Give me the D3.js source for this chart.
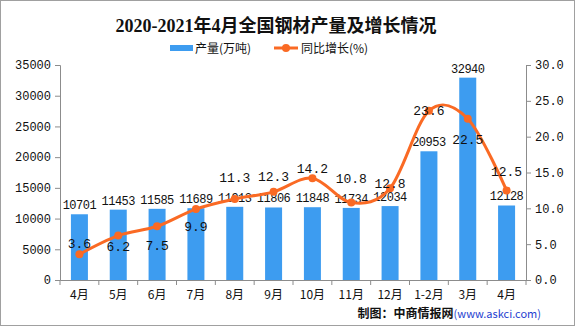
<!DOCTYPE html>
<html>
<head>
<meta charset="utf-8">
<script src="https://cdn.jsdelivr.net/npm/d3@7"></script>
<style>
  body { margin: 0; background: #fff; }
</style>
</head>
<body>
<div id="plot_area"></div>
<script>
// Chart data
const categories = ['4月', '5月', '6月', '7月', '8月', '9月', '10月', '11月', '12月', '1-2月', '3月', '4月'];
const output = [10701, 11453, 11585, 11689, 11913, 11806, 11848, 11734, 12034, 20953, 32940, 12128];
const growth = [3.6, 6.2, 7.5, 9.9, 11.3, 12.3, 14.2, 10.8, 12.8, 23.6, 22.5, 12.5];
const leftTicks = [0, 5000, 10000, 15000, 20000, 25000, 30000, 35000];
const rightTicks = [0, 5, 10, 15, 20, 25, 30];

// Size and plot edges
const w = 575;
const h = 326;
const plotLeft = 60, plotRight = 526, plotTop = 65, plotBottom = 280;

// Vertical shift of each growth label from its point (layout, not data)
const growthLabelDy = [-11, 11, 19, 17, -22, -15, -10, -24, -5, 0, 21, -19];

const barColor = '#3d9cf0';
const lineColor = '#fa6a24';
const axisColor = '#8c8c8c';
const numFont = '"Liberation Mono", "DejaVu Sans Mono", monospace';
const cjkFont = '"Noto Sans CJK SC", sans-serif';

const svg = d3.select('#plot_area')
  .append('svg')
  .attr('width', w)
  .attr('height', h);

// Outer border
svg.append('rect')
  .attr('x', 0.5).attr('y', 0.5)
  .attr('width', w - 1).attr('height', h - 1)
  .attr('fill', 'none')
  .attr('stroke', '#a0a0a0');

// Scales
const xScale = d3.scaleBand()
  .domain(d3.range(categories.length))
  .range([plotLeft, plotRight]);

const yLeft = d3.scaleLinear().domain([0, 35000]).range([plotBottom, plotTop]);
const yRight = d3.scaleLinear().domain([0, 30]).range([plotBottom, plotTop]);

// Left axis
const gl = svg.append('g')
  .attr('transform', 'translate(' + plotLeft + ',0)')
  .call(d3.axisLeft(yLeft).tickValues(leftTicks).tickSize(5).tickPadding(4)
    .tickFormat(d3.format('d')));

// Right axis
const gr = svg.append('g')
  .attr('transform', 'translate(' + plotRight + ',0)')
  .call(d3.axisRight(yRight).tickValues(rightTicks).tickSize(5).tickPadding(4)
    .tickFormat(d3.format('.1f')));

// Bottom axis: ticks on band boundaries
const gx = svg.append('g')
  .attr('transform', 'translate(0,' + plotBottom + ')')
  .call(d3.axisBottom(xScale).tickSize(0).tickPadding(10)
    .tickFormat((i) => categories[i]));

gx.selectAll('.tick text')
  .style('font-family', cjkFont)
  .style('font-size', '12px')
  .attr('fill', '#111');

svg.append('g')
  .selectAll('line')
  .data(d3.range(categories.length + 1))
  .enter()
  .append('line')
  .attr('x1', (i) => plotLeft + i * xScale.step())
  .attr('x2', (i) => plotLeft + i * xScale.step())
  .attr('y1', plotBottom)
  .attr('y2', plotBottom + 5)
  .attr('stroke', axisColor);

[gl, gr, gx].forEach(function (g) {
  g.select('.domain').attr('stroke', axisColor);
  g.selectAll('.tick line').attr('stroke', axisColor);
});
[gl, gr].forEach(function (g) {
  g.selectAll('.tick text')
    .style('font-family', numFont)
    .style('font-size', '12px')
    .attr('fill', '#111');
});

// Bars
const barW = 17;
svg.selectAll('rect.bar')
  .data(output)
  .enter()
  .append('rect')
  .attr('class', 'bar')
  .attr('x', (d, i) => xScale(i) + xScale.bandwidth() / 2 - barW / 2)
  .attr('y', (d) => yLeft(d))
  .attr('width', barW)
  .attr('height', (d) => plotBottom - yLeft(d))
  .attr('fill', barColor);

// Bar labels
svg.selectAll('text.barlab')
  .data(output)
  .enter()
  .append('text')
  .attr('class', 'barlab')
  .attr('x', (d, i) => xScale(i) + xScale.bandwidth() / 2)
  .attr('y', (d) => yLeft(d) - 5)
  .attr('text-anchor', 'middle')
  .style('font-family', numFont)
  .style('font-size', '12px')
  .attr('fill', '#111')
  .attr('letter-spacing', '-0.5')
  .text((d) => d);

// Growth line (smoothed)
svg.append('path')
  .datum(growth)
  .attr('fill', 'none')
  .attr('stroke', lineColor)
  .attr('stroke-width', 3)
  .attr('d', d3.line()
    .curve(d3.curveCardinal.tension(0))
    .x((d, i) => xScale(i) + xScale.bandwidth() / 2)
    .y((d) => yRight(d)));

svg.selectAll('circle.pt')
  .data(growth)
  .enter()
  .append('circle')
  .attr('class', 'pt')
  .attr('cx', (d, i) => xScale(i) + xScale.bandwidth() / 2)
  .attr('cy', (d) => yRight(d))
  .attr('r', 4)
  .attr('fill', lineColor);

// Growth labels
svg.selectAll('text.linelab')
  .data(growth)
  .enter()
  .append('text')
  .attr('class', 'linelab')
  .attr('x', (d, i) => xScale(i) + xScale.bandwidth() / 2)
  .attr('y', (d, i) => yRight(d) + growthLabelDy[i])
  .attr('dy', '0.35em')
  .attr('text-anchor', 'middle')
  .style('font-family', numFont)
  .style('font-size', '13px')
  .attr('fill', '#111')
  .text((d) => d.toFixed(1));

// Title
svg.append('text')
  .attr('x', 276)
  .attr('y', 32)
  .attr('text-anchor', 'middle')
  .style('font-family', '"Liberation Serif", "Noto Sans CJK SC", serif')
  .style('font-weight', 'bold')
  .style('font-size', '18px')
  .attr('fill', '#111')
  .text('2020-2021年4月全国钢材产量及增长情况');

// Legend
svg.append('rect')
  .attr('x', 170).attr('y', 45)
  .attr('width', 23).attr('height', 6)
  .attr('fill', barColor);
svg.append('text')
  .attr('x', 195).attr('y', 53)
  .style('font-family', cjkFont)
  .style('font-size', '12px')
  .attr('fill', '#111')
  .text('产量(万吨)');

svg.append('line')
  .attr('x1', 274).attr('x2', 298)
  .attr('y1', 48).attr('y2', 48)
  .attr('stroke', lineColor)
  .attr('stroke-width', 3);
svg.append('circle')
  .attr('cx', 286).attr('cy', 48).attr('r', 4)
  .attr('fill', lineColor);
svg.append('text')
  .attr('x', 301).attr('y', 53)
  .style('font-family', cjkFont)
  .style('font-size', '12px')
  .attr('fill', '#111')
  .text('同比增长(%)');

// Source
const src = svg.append('text')
  .attr('x', 541).attr('y', 318)
  .attr('text-anchor', 'end')
  .style('font-family', cjkFont)
  .style('font-size', '12px')
  .attr('fill', '#111');
src.append('tspan').style('font-weight', 'bold').text('制图：中商情报网');
src.append('tspan').attr('fill', '#1f3fd0').style('font-size', '11px').text('(www.askci.com)');
</script>
</body>
</html>
